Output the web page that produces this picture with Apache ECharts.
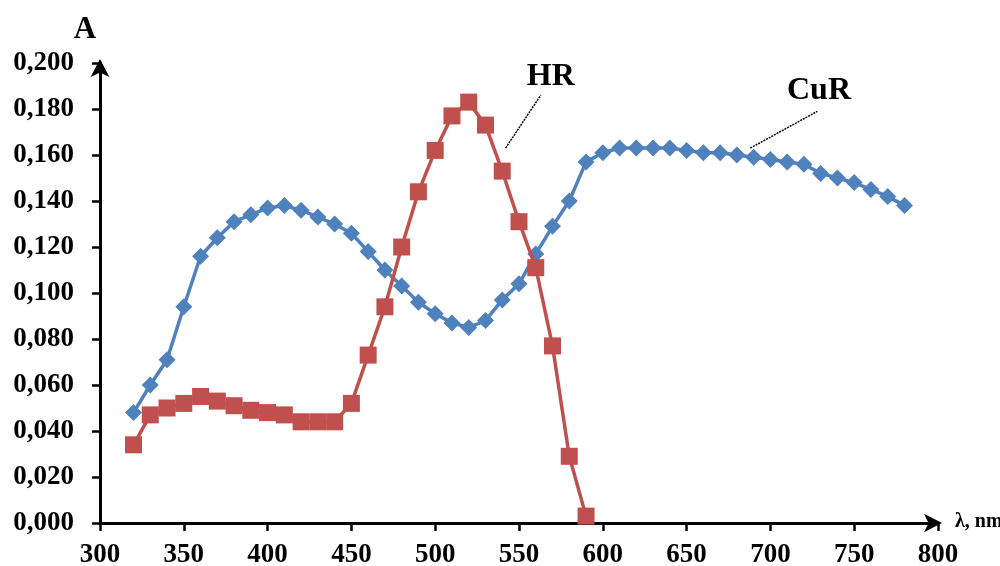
<!DOCTYPE html>
<html><head><meta charset="utf-8">
<script src="https://cdn.jsdelivr.net/npm/echarts@6/dist/echarts.min.js"></script>
<style>html,body{margin:0;padding:0;background:#fff}#c{width:1000px;height:566px}</style>
</head><body><div id="c"></div>
<script>
const wavelengthsCuR = [320,330,340,350,360,370,380,390,400,410,420,430,440,450,460,470,480,490,500,510,520,530,540,550,560,570,580,590,600,610,620,630,640,650,660,670,680,690,700,710,720,730,740,750,760,770,780];
const absCuR = [0.048,0.060,0.071,0.094,0.116,0.124,0.131,0.134,0.137,0.138,0.136,0.133,0.130,0.126,0.118,0.110,0.103,0.096,0.091,0.087,0.085,0.088,0.097,0.104,0.117,0.129,0.140,0.157,0.161,0.163,0.163,0.163,0.163,0.162,0.161,0.161,0.160,0.159,0.158,0.157,0.156,0.152,0.150,0.148,0.145,0.142,0.138];
const wavelengthsHR = [320,330,340,350,360,370,380,390,400,410,420,430,440,450,460,470,480,490,500,510,520,530,540,550,560,570,580,590];
const absHR = [0.034,0.047,0.050,0.052,0.055,0.053,0.051,0.049,0.048,0.047,0.044,0.044,0.044,0.052,0.073,0.094,0.120,0.144,0.162,0.177,0.183,0.173,0.153,0.131,0.111,0.077,0.029,0.003];
const xTicks = {min:300, max:800, interval:50};
const yTicks = {min:0, max:0.2, interval:0.02};

const chart = echarts.init(document.getElementById('c'), null, {renderer:'canvas'});
const font = 'Liberation Serif';
const pair = (xs, ys) => xs.map((x,i)=>[x, ys[i]]);
chart.setOption({
  animation:false,
  backgroundColor:'#fff',
  grid:{left:100, right:62, top:63, bottom:43, outerBoundsMode:'none', containLabel:false},
  xAxis:{type:'value', min:xTicks.min, max:xTicks.max, interval:xTicks.interval,
    axisLine:{show:true, onZero:false, lineStyle:{color:'#000', width:3}, symbol:['none','arrow'], symbolSize:[14,18], symbolOffset:[0,4]},
    axisTick:{show:true, inside:false, length:8, lineStyle:{color:'#000', width:2.5}},
    axisLabel:{color:'#000', fontFamily:font, fontWeight:'bold', fontSize:27, margin:19},
    splitLine:{show:false}},
  yAxis:{type:'value', min:yTicks.min, max:yTicks.max, interval:yTicks.interval,
    axisLine:{show:true, onZero:false, lineStyle:{color:'#000', width:3}, symbol:['none','arrow'], symbolSize:[14,18], symbolOffset:[0,4]},
    axisTick:{show:true, inside:false, length:8, lineStyle:{color:'#000', width:2.5}},
    axisLabel:{color:'#000', fontFamily:font, fontWeight:'bold', fontSize:27, margin:26,
      formatter:v=>v.toFixed(3).replace('.', ',')},
    splitLine:{show:false}},
  series:[
    {name:'CuR', type:'line', data:pair(wavelengthsCuR, absCuR), symbol:'diamond', symbolSize:[17,17],
      itemStyle:{color:'#4F81BD'}, lineStyle:{color:'#4F81BD', width:3.5}, z:2},
    {name:'HR', type:'line', data:pair(wavelengthsHR, absHR), symbol:'rect', symbolSize:17,
      itemStyle:{color:'#C0504D'}, lineStyle:{color:'#C0504D', width:3.5}, z:3}
  ]
});

// annotations placed relative to data coordinates
const p = (x,y)=>chart.convertToPixel({gridIndex:0}, [x,y]);
const hrA = p(542, 0.163), hrB = p(563, 0.186), hrT = p(569, 0.194);
const cuA = p(688, 0.163), cuB = p(728, 0.179), cuT = p(729, 0.188);
chart.setOption({graphic:[
  {type:'line', shape:{x1:hrA[0], y1:hrA[1], x2:hrB[0], y2:hrB[1]}, style:{stroke:'#000', lineWidth:1.5, lineDash:[2,1]}},
  {type:'line', shape:{x1:cuA[0], y1:cuA[1], x2:cuB[0], y2:cuB[1]}, style:{stroke:'#000', lineWidth:1.5, lineDash:[2,1]}},
  {type:'text', x:hrT[0], y:hrT[1], style:{text:'HR', font:'bold 32px "Liberation Serif"', fill:'#000', textAlign:'center', textVerticalAlign:'middle'}},
  {type:'text', x:cuT[0], y:cuT[1], style:{text:'CuR', font:'bold 32px "Liberation Serif"', fill:'#000', textAlign:'center', textVerticalAlign:'middle'}},
  {type:'text', x:85, y:30, style:{text:'A', font:'bold 31px "Liberation Serif"', fill:'#000', textAlign:'center', textVerticalAlign:'middle'}},
  {type:'text', x:955, y:522, style:{text:'λ, nm', font:'bold 20px "Liberation Serif"', fill:'#000', textAlign:'left', textVerticalAlign:'middle'}}
]});
</script></body></html>
